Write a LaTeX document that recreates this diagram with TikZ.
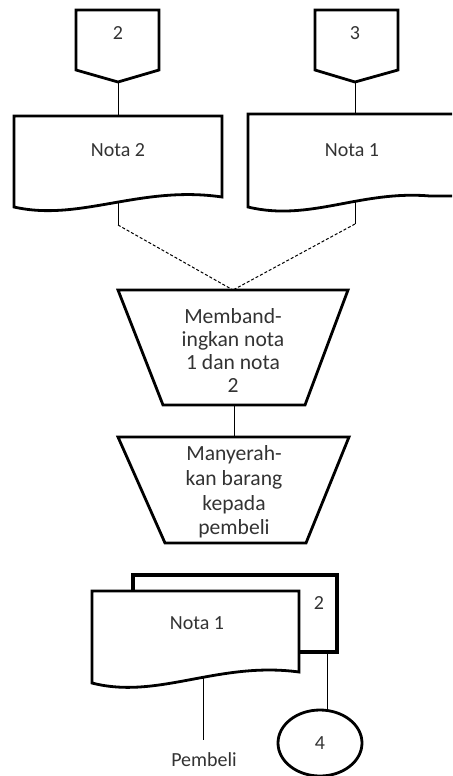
\documentclass[tikz,border=0pt]{standalone}
\usepackage{fontspec}
\setmainfont{Carlito}
\usetikzlibrary{shapes.geometric}

\tikzset{
    shape box/.style={black, line width=1.4pt, line join=miter, fill=white},
    flow line/.style={black, line width=0.5pt},
    dot line/.style={black, line width=0.5pt, dash pattern=on 1.5pt off 1pt},
    lbl/.style={text=black!80, font=\fontsize{10}{12}\selectfont, align=center, inner sep=1pt}
}

\begin{document}
\begin{tikzpicture}[x=0.5pt, y=-0.5pt]
        \useasboundingbox (0,0) rectangle (452,776);

        % off-page connectors
        \coordinate(k2a) at (76, 10);
        \coordinate(k2b) at (159, 10);
        \coordinate(k2c) at (159, 70);
        \coordinate(k2d) at (118, 82);
        \coordinate(k2e) at (76, 70);

        \coordinate(k3a) at (315, 10);
        \coordinate(k3b) at (398, 10);
        \coordinate(k3c) at (398, 70);
        \coordinate(k3d) at (355, 82);
        \coordinate(k3e) at (315, 70);

        % documents
        \coordinate(n2t) at (118, 116);
        \coordinate(n2w) at (118, 200);
        \coordinate(n2j) at (118, 225);
        \coordinate(n1t) at (355, 114);
        \coordinate(n1w) at (355, 200);
        \coordinate(n1j) at (355, 224);

        % manual operations
        \coordinate(m1a) at (118, 290);
        \coordinate(m1b) at (348, 290);
        \coordinate(m1c) at (305, 405);
        \coordinate(m1d) at (163, 405);
        \coordinate(m1t) at (233, 290);
        \coordinate(m1u) at (234, 405);

        \coordinate(m2a) at (118, 437);
        \coordinate(m2b) at (349, 437);
        \coordinate(m2c) at (306, 543);
        \coordinate(m2d) at (165, 543);
        \coordinate(m2t) at (234, 437);

        \coordinate(fw) at (203, 678);
        \coordinate(bw) at (327, 650);

        % connectors
        \draw[flow line] (k2d) -- (n2t);
        \draw[flow line] (k3d) -- (n1t);
        \draw[flow line] (n2w) -- (n2j);
        \draw[flow line] (n1w) -- (n1j);
        \draw[dot line] (n2j) -- (m1t);
        \draw[dot line] (n1j) -- (m1t);
        \draw[flow line] (m1u) -- (m2t);

        % shapes
        \draw[shape box] (k2a) -- (k2b) -- (k2c) -- (k2d) -- (k2e) -- cycle;
        \draw[shape box] (k3a) -- (k3b) -- (k3c) -- (k3d) -- (k3e) -- cycle;

        \draw[shape box] (14, 116) -- (222, 116) -- (222, 197)
            .. controls (140, 185) and (80, 222) .. (14, 207) -- cycle;
        \begin{scope}
            \clip (0, 0) rectangle (452, 776);
            \draw[shape box] (248, 114) -- (470, 114) -- (470, 196) -- (430, 196)
                .. controls (360, 190) and (310, 222) .. (248, 207) -- cycle;
        \end{scope}

        \draw[shape box] (m1a) -- (m1b) -- (m1c) -- (m1d) -- cycle;
        \draw[shape box] (m2a) -- (m2b) -- (m2c) -- (m2d) -- cycle;

        \node[lbl] (lk2) at (118, 33) {2};
        \node[lbl] (lk3) at (355, 33) {3};
        \node[lbl] (ln2) at (118, 150) {Nota 2};
        \node[lbl] (ln1) at (352, 150) {Nota 1};
        \node[lbl, font=\fontsize{10.8}{11.5}\selectfont] (lm1) at (233, 350)
            {Memband-\\ingkan nota\\1 dan nota\\2};
        \node[lbl, font=\fontsize{10.8}{12.3}\selectfont] (lm2) at (234, 492)
            {Manyerah-\\kan barang\\kepada\\pembeli};

        % copies of nota
        \draw[flow line] (fw) -- (203, 740);
        \draw[flow line] (bw) -- (327, 712);
        \draw[shape box, line width=1.6pt] (133, 575) rectangle (337, 652);
        \draw[shape box] (92, 591) -- (299, 591) -- (299, 672)
            .. controls (218, 661) and (158, 700) .. (92, 683) -- cycle;
        \node[lbl] (lb2) at (319, 603) {2};
        \node[lbl] (lb1) at (197, 623) {Nota 1};
        \node[lbl, inner sep=5pt] (pemb) at (204, 760) {Pembeli};
        \begin{scope}
            \clip (0, 0) rectangle (452, 776);
            \node[shape box, ellipse, draw, inner sep=0pt, minimum width=42pt,
                  minimum height=33pt, text=black!80, font=\fontsize{10}{12}\selectfont]
                  (k4) at (320, 743) {4};
        \end{scope}
\end{tikzpicture}
\end{document}
